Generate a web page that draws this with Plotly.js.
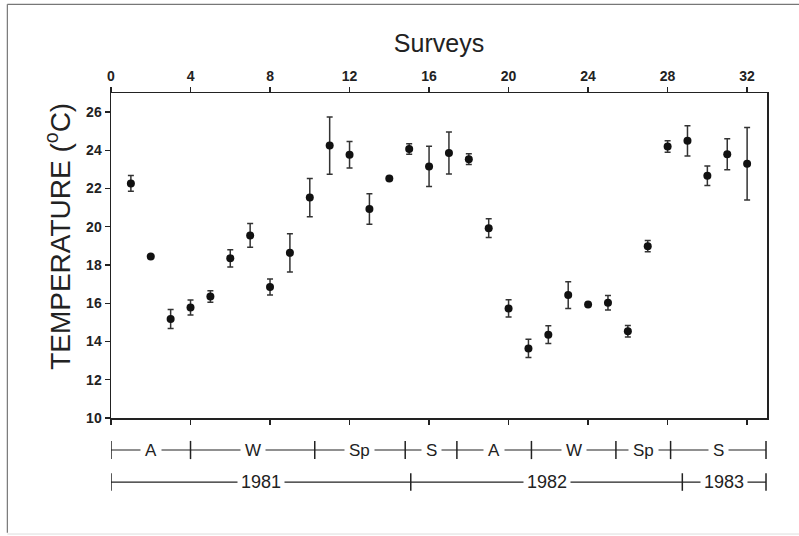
<!DOCTYPE html>
<html>
<head>
<meta charset="utf-8">
<script src="https://cdn.plot.ly/plotly-3.0.1.min.js"></script>
<style>
  html, body { margin: 0; padding: 0; background: #ffffff; }
  #chart { width: 799px; height: 536px; }
</style>
</head>
<body>
<div id="chart"></div>
<script>
// ---- data ----
const surveys = [1,2,3,4,5,6,7,8,9,10,11,12,13,14,15,16,17,18,19,20,21,22,23,24,25,26,27,28,29,30,31,32];
const temperature = [22.27,18.45,15.18,15.78,16.36,18.35,19.55,16.85,18.64,21.53,24.25,23.77,20.93,22.53,24.07,23.16,23.86,23.54,19.93,15.73,13.64,14.36,16.43,15.94,16.03,14.54,18.99,24.2,24.5,22.67,23.8,23.3];
const tempError = [0.41,0,0.5,0.39,0.3,0.45,0.62,0.42,1.0,1.0,1.5,0.69,0.8,0,0.27,1.05,1.1,0.28,0.49,0.45,0.48,0.46,0.7,0,0.38,0.3,0.29,0.3,0.79,0.51,0.81,1.9];
const xTicks = [0,4,8,12,16,20,24,28,32];
const yTicks = [10,12,14,16,18,20,22,24,26];
const seasonBounds = [0, 4, 10.25, 14.8, 17.4, 21.15, 25.4, 28.15, 32.95];
const seasonLabels = ['A','W','Sp','S','A','W','Sp','S'];
const yearBounds = [0, 15.08, 28.74, 32.95];
const yearLabels = ['1981','1982','1983'];

// ---- layout helpers ----
const FONT = 'Liberation Sans, Arial, sans-serif';
const ink = '#222222';
const shapes = [];
const annotations = [];

function addRow(bounds, labels, yMid, barHalf, fontSize, pad) {
  shapes.push({type:'line', xref:'x', yref:'paper', x0:bounds[0], x1:bounds[bounds.length-1], y0:yMid, y1:yMid,
    line:{color:ink, width:1.2}});
  bounds.forEach(b => shapes.push({type:'line', xref:'x', yref:'paper', x0:b, x1:b, y0:yMid-barHalf, y1:yMid+barHalf,
    line:{color:ink, width:1.5}}));
  labels.forEach((lab, i) => annotations.push({
    xref:'x', yref:'paper', x:(bounds[i]+bounds[i+1])/2, y:yMid, text:lab, showarrow:false,
    xanchor:'center', yanchor:'middle', bgcolor:'#ffffff', borderpad:pad,
    font:{family:FONT, size:fontSize, color:ink}
  }));
}
addRow(seasonBounds, seasonLabels, -0.0985, 0.028, 17, 4);
addRow(yearBounds, yearLabels, -0.197, 0.027, 18, 3);

// outer frame (left, top, bottom)
shapes.push({type:'line', xref:'paper', yref:'paper', x0:-0.158, x1:-0.158, y0:-0.353, y1:1.273, line:{color:'#777', width:1.2}});
shapes.push({type:'line', xref:'paper', yref:'paper', x0:-0.158, x1:1.05, y0:1.273, y1:1.273, line:{color:'#777', width:1.2}});
shapes.push({type:'line', xref:'paper', yref:'paper', x0:-0.158, x1:1.05, y0:-0.357, y1:-0.357, line:{color:'#dddddd', width:1}});

// y title as annotation (placed as in the original)
annotations.push({xref:'paper', yref:'paper', x:-0.081, y:0.56, textangle:-90, showarrow:false,
  xanchor:'center', yanchor:'middle', text:'TEMPERATURE (<sup>o</sup>C)',
  font:{family:FONT, size:28, color:ink}});

const trace = {
  x: surveys, y: temperature, type:'scatter', mode:'markers',
  marker:{color:'#111111', size:8},
  error_y:{type:'data', array: tempError, visible:true, color:'#333333', thickness:1.5, width:3},
  hoverinfo:'x+y'
};

const layout = {
  width:799, height:536,
  margin:{l:111, r:32, t:93, b:118},
  paper_bgcolor:'#ffffff', plot_bgcolor:'#ffffff',
  showlegend:false,
  font:{family:FONT, color:ink},
  xaxis:{
    range:[0,33], side:'top', tickmode:'array', tickvals:xTicks, ticktext:xTicks.map(String),
    ticks:'outside', ticklen:5, tickwidth:1.3, tickcolor:ink,
    showline:true, linecolor:ink, linewidth:1.5, mirror:'ticks',
    showgrid:false, zeroline:false,
    tickfont:{family:FONT, size:14, color:ink, weight:'bold'},
    title:{text:'Surveys', font:{family:FONT, size:25, color:ink}, standoff:8}
  },
  yaxis:{
    range:[10,27], tickmode:'array', tickvals:yTicks, ticktext:yTicks.map(String),
    ticks:'outside', ticklen:5, tickwidth:1.3, tickcolor:ink,
    showline:true, linecolor:ink, linewidth:1.5, mirror:true,
    showgrid:false, zeroline:false,
    tickfont:{family:FONT, size:14, color:ink, weight:'bold'}
  },
  shapes: shapes,
  annotations: annotations
};

Plotly.newPlot('chart', [trace], layout, {displayModeBar:false, staticPlot:true});
</script>
</body>
</html>
